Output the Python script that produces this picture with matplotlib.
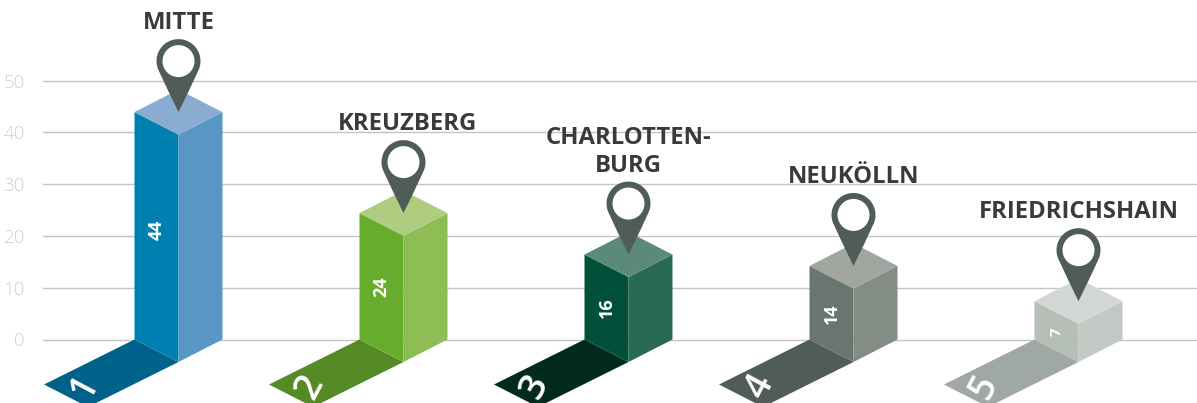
import matplotlib
matplotlib.use('Agg')
import matplotlib.pyplot as plt
import numpy as np
from matplotlib.path import Path
from matplotlib.patches import PathPatch, Polygon, Ellipse

plt.rcParams['font.family'] = ['Open Sans', 'DejaVu Sans']

# data
districts = ['MITTE', 'KREUZBERG', 'CHARLOTTEN-\nBURG', 'NEUKÖLLN', 'FRIEDRICHSHAIN']
ranks = ['1', '2', '3', '4', '5']
values = [44, 24, 16, 14, 7]
heights = [43.9, 24.4, 16.4, 14.2, 7.4]  # drawn height
yticks = [0, 10, 20, 30, 40, 50]

front_colors = ['#0080b0', '#68ac2d', '#02503a', '#68766f', '#b6beb8']
right_colors = ['#5a96c3', '#8ebc55', '#286a56', '#838c85', '#c2c9c4']
top_colors = ['#8aacd0', '#afcd80', '#5b8a7a', '#a0a5a0', '#d2d7d3']
shadow_colors = ['#00628a', '#548b24', '#022b1d', '#505c56', '#a0a8a3']
pin_color = '#505c57'

# scales: px per x unit and per y unit
px_x = 225.0
px_y = 5.18
left_px = 43
w, h = 1197, 403

fig = plt.figure(figsize=(w / 100, h / 100), dpi=100)
ax = fig.add_axes([left_px / w, 0, 1 - left_px / w, 1])
ax.set_xlim((left_px - 178.5) / px_x, (w - 178.5) / px_x)
ax.set_ylim(-(h - 339.5) / px_y, 339.5 / px_y)

half = 44 / px_x
depth = 22.5 / px_y
sx, sy = 90.5 / px_x, 45 / px_y


def draw_pin(x, tip):
    # pin shape in pixels around the circle centre, then scaled to data
    cy = tip + 51 / px_y
    r = 22
    t = np.radians(np.linspace(-22, 202, 40))
    arc_x, arc_y = r * np.cos(t), r * np.sin(t)
    verts = list(zip(arc_x, arc_y)) + [(-10, -31), (0, -51), (10, -31), (arc_x[0], arc_y[0])]
    codes = [Path.MOVETO] + [Path.LINETO] * 39 + [Path.CURVE3, Path.LINETO, Path.CURVE3, Path.CURVE3]
    verts = [(x + a / px_x, cy + b / px_y) for a, b in verts]
    ax.add_patch(PathPatch(Path(verts, codes), fc=pin_color, ec='none', zorder=5))
    ax.add_patch(Ellipse((x, cy), 32 / px_x, 32 / px_y, fc='white', ec='none', zorder=6))
    return cy + r / px_y


for i, name in enumerate(districts):
    top = heights[i]
    # shadow on the floor
    ax.add_patch(Polygon([(i - half, 0), (i, -depth), (i - sx, -depth - sy), (i - half - sx, -sy)],
                         fc=shadow_colors[i], ec='none', zorder=2))
    # three faces of the block
    ax.add_patch(Polygon([(i - half, 0), (i, -depth), (i, top - depth), (i - half, top)],
                         fc=front_colors[i], ec='none', zorder=3))
    ax.add_patch(Polygon([(i, -depth), (i + half, 0), (i + half, top), (i, top - depth)],
                         fc=right_colors[i], ec='none', zorder=3))
    ax.add_patch(Polygon([(i - half, top), (i, top - depth), (i + half, top), (i, top + depth)],
                         fc=top_colors[i], ec='none', zorder=3))

    pin_top = draw_pin(i, top)

    label_y = top / 2 - 2.1
    if i == 0:
        label_y += 1.4
    ax.text(i - 22 / px_x, label_y, str(values[i]), rotation=90, color='white', ha='center',
            va='center', fontsize=13 if i < 4 else 11, fontweight='bold', zorder=4)

    ax.text(i - 94 / px_x, -9.1, ranks[i], rotation=62, color='white', ha='center', va='center',
            fontsize=27, fontweight='semibold', zorder=4)

    dx = 4 / px_x if i == 1 else 0
    ax.text(i + dx, pin_top + 4 / px_y, name, color='#3a3a3a', ha='center', va='bottom',
            fontsize=17.2, fontweight='bold', linespacing=1.2, zorder=7)

ax.set_yticks(yticks)
ax.tick_params(axis='y', length=0, pad=13, labelcolor='#cfcfcf', labelsize=13.5)
for lab in ax.get_yticklabels():
    lab.set_fontweight('light')
ax.set_xticks([])
ax.grid(axis='y', color='#c4c4c4', linewidth=1)
ax.set_axisbelow(True)
for s in ax.spines.values():
    s.set_visible(False)

fig.savefig('out.png', dpi=100)
